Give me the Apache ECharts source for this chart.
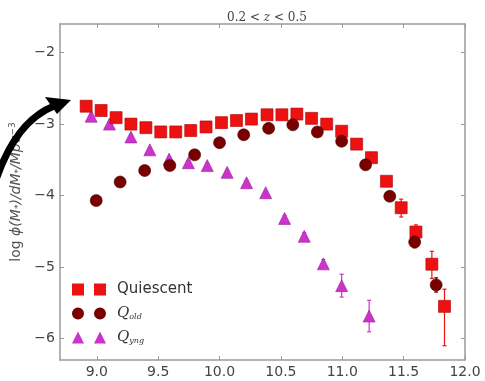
<!DOCTYPE html>
<html>
<head>
<meta charset="utf-8">
<script src="https://cdn.jsdelivr.net/npm/echarts@6/dist/echarts.min.js"></script>
<style>
  html, body { margin: 0; padding: 0; background: #fff; }
  #chart { width: 485px; height: 381px; }
</style>
</head>
<body>
<div id="chart"></div>
<script>
// Stellar mass function, 0.2 < z < 0.5 — quiescent galaxies split into old and young
const xTicks = [9.0, 9.5, 10.0, 10.5, 11.0, 11.5, 12.0];
const yTicks = [-6, -5, -4, -3, -2];

const quiescentX = [8.913, 9.035, 9.157, 9.278, 9.40, 9.521, 9.643, 9.765, 9.89, 10.016, 10.138, 10.26, 10.387,
                    10.508, 10.63, 10.75, 10.873, 10.995, 11.117, 11.238, 11.36, 11.48, 11.60, 11.73, 11.833];
const quiescentY = [-2.75, -2.81, -2.91, -3.00, -3.05, -3.11, -3.11, -3.09, -3.04, -2.98, -2.95, -2.93, -2.87,
                    -2.87, -2.86, -2.92, -3.00, -3.10, -3.28, -3.47, -3.80, -4.17, -4.51, -4.96, -5.55];
const quiescentErrUp = [0.03, 0.03, 0.03, 0.03, 0.03, 0.03, 0.03, 0.03, 0.03, 0.03, 0.03, 0.03, 0.03,
                        0.03, 0.03, 0.03, 0.03, 0.03, 0.04, 0.05, 0.06, 0.12, 0.10, 0.18, 0.24];
const quiescentErrDown = [0.03, 0.03, 0.03, 0.03, 0.03, 0.03, 0.03, 0.03, 0.03, 0.03, 0.03, 0.03, 0.03,
                          0.03, 0.03, 0.03, 0.03, 0.03, 0.04, 0.05, 0.06, 0.13, 0.10, 0.20, 0.55];

const oldX = [8.995, 9.19, 9.39, 9.595, 9.797, 10.0, 10.197, 10.40, 10.597, 10.797, 10.995, 11.19, 11.387, 11.59, 11.765];
const oldY = [-4.07, -3.81, -3.65, -3.58, -3.43, -3.26, -3.15, -3.06, -3.01, -3.11, -3.24, -3.57, -4.01, -4.65, -5.25];
const oldErr = [0.03, 0.03, 0.03, 0.03, 0.03, 0.03, 0.03, 0.03, 0.03, 0.03, 0.03, 0.04, 0.05, 0.08, 0.10];

const youngX = [8.954, 9.103, 9.278, 9.432, 9.589, 9.746, 9.90, 10.062, 10.22, 10.376, 10.53, 10.69, 10.846, 10.995, 11.219];
const youngY = [-2.89, -3.00, -3.18, -3.36, -3.49, -3.54, -3.58, -3.675, -3.82, -3.96, -4.32, -4.57, -4.955, -5.26, -5.685];
const youngErr = [0.03, 0.03, 0.03, 0.03, 0.03, 0.03, 0.03, 0.03, 0.03, 0.03, 0.04, 0.05, 0.06, 0.16, 0.22];

const C_Q = '#ee1111', C_OLD = '#7a0000', C_YNG = '#cc33cc';

const pts = (xs, ys) => xs.map((x, i) => [x, ys[i]]);
const errs = (xs, ys, up, down) => xs.map((x, i) => [x, ys[i], ys[i] - down[i], ys[i] + up[i]]);

function errorBars(color) {
  return function (params, api) {
    const x = api.value(0);
    const lo = api.coord([x, api.value(2)]);
    const hi = api.coord([x, api.value(3)]);
    const style = { stroke: color, lineWidth: 1.2 };
    return {
      type: 'group',
      children: [
        { type: 'line', shape: { x1: lo[0], y1: lo[1], x2: hi[0], y2: hi[1] }, style },
        { type: 'line', shape: { x1: lo[0] - 2, y1: lo[1], x2: lo[0] + 2, y2: lo[1] }, style },
        { type: 'line', shape: { x1: hi[0] - 2, y1: hi[1], x2: hi[0] + 2, y2: hi[1] }, style }
      ]
    };
  };
}

const FRAME = '#9a9a9a';
const FONT = 'DejaVu Sans';

const chart = echarts.init(document.getElementById('chart'), null, { renderer: 'canvas' });

const axisCommon = {
  type: 'value',
  axisLine: { show: true, onZero: false, lineStyle: { color: FRAME, width: 1.5 } },
  splitLine: { show: false }
};

chart.setOption({
  animation: false,
  backgroundColor: '#fff',
  title: {
    text: '0.2 < {i|z} < 0.5',
    left: 262, textAlign: 'center', top: 7,
    textStyle: {
      fontFamily: 'DejaVu Serif', fontSize: 12, fontWeight: 'normal', color: '#444',
      rich: { i: { fontFamily: 'DejaVu Serif', fontStyle: 'italic', fontSize: 12, color: '#444' } }
    }
  },
  grid: { left: 60, right: 20, top: 24, bottom: 21 },
  xAxis: [
    Object.assign({}, axisCommon, {
      min: 8.7, max: 12.0, position: 'bottom',
      axisTick: { show: true, inside: true, length: 4, customValues: xTicks, lineStyle: { color: FRAME } },
      axisLabel: { customValues: xTicks, formatter: v => v.toFixed(1), margin: 5,
                   fontFamily: FONT, fontSize: 14, color: '#444' }
    }),
    Object.assign({}, axisCommon, {
      min: 8.7, max: 12.0, position: 'top',
      axisTick: { show: true, inside: true, length: 4, customValues: xTicks, lineStyle: { color: FRAME } },
      axisLabel: { show: false }
    })
  ],
  yAxis: [
    Object.assign({}, axisCommon, {
      min: -6.3, max: -1.6, position: 'left',
      axisTick: { show: true, inside: true, length: 4, customValues: yTicks, lineStyle: { color: FRAME } },
      axisLabel: { customValues: yTicks, formatter: v => '\u2212' + Math.abs(v), margin: 5,
                   fontFamily: FONT, fontSize: 14, color: '#444' },
      name: '{a|log }{b|\u03d5(M}{c|*}{b|)/dM}{c|*}{b|/Mpc}{d|\u22123}',
      nameLocation: 'middle', nameGap: 33, nameRotate: 90,
      nameTextStyle: {
        color: '#555',
        rich: {
          a: { fontFamily: FONT, fontSize: 14, color: '#555' },
          b: { fontFamily: FONT, fontStyle: 'italic', fontSize: 14, color: '#555' },
          c: { fontFamily: FONT, fontSize: 9, color: '#555', verticalAlign: 'bottom', padding: [6, 0, 0, 0] },
          d: { fontFamily: FONT, fontSize: 9, color: '#555', verticalAlign: 'top', padding: [0, 0, 6, 0] }
        }
      }
    }),
    Object.assign({}, axisCommon, {
      min: -6.3, max: -1.6, position: 'right',
      axisTick: { show: true, inside: true, length: 4, customValues: yTicks, lineStyle: { color: FRAME } },
      axisLabel: { show: false }
    })
  ],
  legend: {
    orient: 'vertical', left: 67, top: 277, itemGap: 9,
    itemWidth: 34, itemHeight: 12,
    itemStyle: { borderWidth: 0 },
    data: [
      { name: 'Quiescent', icon: 'path://M0,0H12V12H0Z M22,0H34V12H22Z' },
      { name: 'Qold', icon: 'path://M0,6A6,6 0 1,1 12,6A6,6 0 1,1 0,6Z M22,6A6,6 0 1,1 34,6A6,6 0 1,1 22,6Z' },
      { name: 'Qyng', icon: 'path://M6,0L12,12H0Z M28,0L34,12H22Z' }
    ],
    formatter: name => name === 'Quiescent' ? '{t|Quiescent}' : '{q|Q}{s|' + name.slice(1) + '}',
    textStyle: {
      padding: [0, 0, 0, 6],
      rich: {
        t: { fontFamily: FONT, fontSize: 15, color: '#333' },
        q: { fontFamily: 'DejaVu Serif', fontStyle: 'italic', fontSize: 15, color: '#333' },
        s: { fontFamily: 'DejaVu Serif', fontStyle: 'italic', fontSize: 8, color: '#333',
             verticalAlign: 'bottom', padding: [7, 0, 0, 0] }
      }
    }
  },
  graphic: [
    {
      type: 'bezierCurve', z: 100,
      shape: { x1: -6, y1: 186, cpx1: 14, cpy1: 122, x2: 54, y2: 106 },
      style: { stroke: '#000', lineWidth: 7, fill: null }
    },
    {
      type: 'polygon', z: 100,
      shape: { points: [[71, 100], [45, 97], [57, 114]] },
      style: { fill: '#000' }
    }
  ],
  series: [
    { type: 'custom', name: 'Quiescent err', renderItem: errorBars(C_Q), z: 1,
      data: errs(quiescentX, quiescentY, quiescentErrUp, quiescentErrDown), encode: { x: 0, y: [1, 2, 3] } },
    { type: 'custom', name: 'Qold err', renderItem: errorBars(C_OLD), z: 1,
      data: errs(oldX, oldY, oldErr, oldErr), encode: { x: 0, y: [1, 2, 3] } },
    { type: 'custom', name: 'Qyng err', renderItem: errorBars(C_YNG), z: 1,
      data: errs(youngX, youngY, youngErr, youngErr), encode: { x: 0, y: [1, 2, 3] } },
    { type: 'scatter', name: 'Qyng', symbol: 'triangle', symbolSize: 12, z: 3,
      itemStyle: { color: C_YNG, borderColor: '#992299', borderWidth: 0.6, opacity: 1 },
      data: pts(youngX, youngY) },
    { type: 'scatter', name: 'Quiescent', symbol: 'rect', symbolSize: 12, z: 4,
      itemStyle: { color: C_Q, borderColor: '#b00000', borderWidth: 0.6, opacity: 1 },
      data: pts(quiescentX, quiescentY) },
    { type: 'scatter', name: 'Qold', symbol: 'circle', symbolSize: 12, z: 5,
      itemStyle: { color: C_OLD, borderColor: '#3a0000', borderWidth: 0.6, opacity: 1 },
      data: pts(oldX, oldY) }
  ]
});
</script>
</body>
</html>
